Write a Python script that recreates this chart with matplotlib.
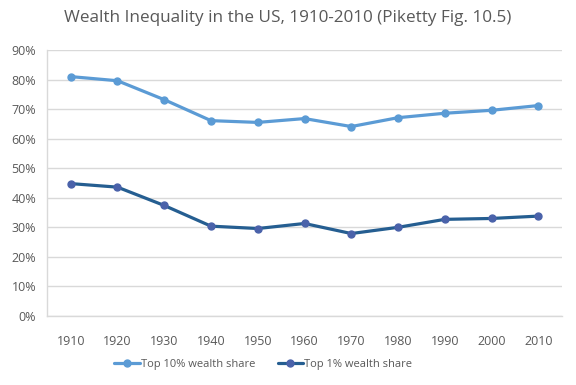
import matplotlib
matplotlib.use("Agg")
import matplotlib.pyplot as plt
from matplotlib.ticker import FuncFormatter

years = ["1910", "1920", "1930", "1940", "1950", "1960", "1970", "1980", "1990", "2000", "2010"]
top10 = [81.0, 79.6, 73.2, 66.1, 65.5, 66.8, 64.1, 67.1, 68.6, 69.6, 71.2]
top1 = [44.8, 43.6, 37.4, 30.4, 29.6, 31.3, 27.9, 30.0, 32.7, 33.0, 33.8]

plt.rcParams['font.family'] = ['Open Sans', 'DejaVu Sans']

fig = plt.figure(figsize=(5.76, 3.85), dpi=100)
ax = fig.add_axes([47.3/576, 1 - 316/385, (561.7-47.3)/576, (316-50)/385])

x = list(range(len(years)))
ax.plot(x, top10, color="#5B9BD5", lw=2.3, marker="o", ms=5,
        markerfacecolor="#5B9BD5", markeredgecolor="#5B9BD5", label="Top 10% wealth share",
        solid_capstyle="round", zorder=3)
ax.plot(x, top1, color="#255E91", lw=2.3, marker="o", ms=5,
        markerfacecolor="#4A62AA", markeredgecolor="#4A62AA", label="Top 1% wealth share",
        solid_capstyle="round", zorder=3)

ax.set_xlim(-0.5, len(years) - 0.5)
ax.set_ylim(0, 90)
ax.set_yticks(range(0, 91, 10))
ax.yaxis.set_major_formatter(FuncFormatter(lambda v, p: f"{int(v)}%"))
ax.set_xticks(x)
ax.set_xticklabels(years)
ax.grid(axis="y", color="#D9D9D9", lw=1)
ax.set_axisbelow(True)
for s in ["top", "right"]:
    ax.spines[s].set_visible(False)
for s in ["left", "bottom"]:
    ax.spines[s].set_color("#D9D9D9")
    ax.spines[s].set_linewidth(1)
ax.tick_params(axis="both", length=0, labelsize=9, colors="#595959")
ax.tick_params(axis="x", pad=14)
ax.tick_params(axis="y", pad=8)

fig.text(0.5, 1 - 18/385, "Wealth Inequality in the US, 1910-2010 (Piketty Fig. 10.5)",
         ha="center", va="center", fontsize=12.3, color="#595959")

leg = fig.legend(loc="center", bbox_to_anchor=(0.457, 1 - 364/385), ncol=2, frameon=False,
                 fontsize=8, labelcolor="#595959", handlelength=2.3, handletextpad=0.1,
                 columnspacing=2.0)

fig.savefig("out.png", dpi=100)
